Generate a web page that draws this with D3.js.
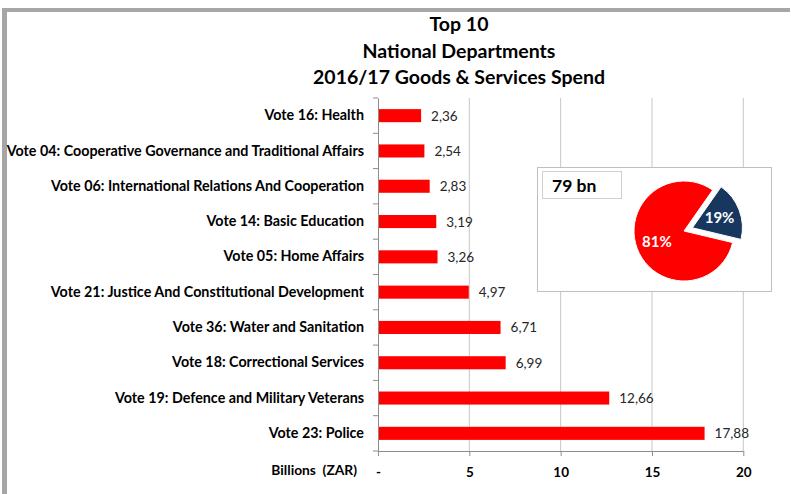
<!DOCTYPE html>
<html>
<head>
<meta charset="utf-8">
<script src="https://cdn.jsdelivr.net/npm/d3@7"></script>
<style>
  html, body { margin: 0; padding: 0; background: #fff; }
  svg { display: block; }
  text { font-family: Lato, "Open Sans", "Liberation Sans", sans-serif; }
</style>
</head>
<body>
<svg id="chart" width="791" height="494"></svg>
<script>
// Top 10 national departments, goods & services spend (R billions)
const categories = [
  "Vote 16: Health",
  "Vote 04: Cooperative Governance and Traditional Affairs",
  "Vote 06: International Relations And Cooperation",
  "Vote 14: Basic Education",
  "Vote 05: Home Affairs",
  "Vote 21: Justice And Constitutional Development",
  "Vote 36: Water and Sanitation",
  "Vote 18: Correctional Services",
  "Vote 19: Defence and Military Veterans",
  "Vote 23: Police"
];
const values = [2.36, 2.54, 2.83, 3.19, 3.26, 4.97, 6.71, 6.99, 12.66, 17.88];
const valueLabels = ["2,36", "2,54", "2,83", "3,19", "3,26", "4,97", "6,71", "6,99", "12,66", "17,88"];
const xTicks = [0, 5, 10, 15, 20];
const xTickLabels = ["-", "5", "10", "15", "20"];
const titleLines = ["Top 10", "National Departments", "2016/17 Goods & Services Spend"];
const axisTitle = "Billions  (ZAR)";

// Inset: share of total spend taken by the top 10
const pieLabels = ["19%", "81%"];
const pieShares = [19, 81];
const pieColors = ["#17375e", "#ff0000"];
const totalLabel = "79 bn";

const svg = d3.select("#chart");

// Frame bands
svg.append("rect").attr("x", 2).attr("y", 8).attr("width", 788).attr("height", 4).attr("fill", "#a6a6a6");
svg.append("rect").attr("x", 2).attr("y", 8).attr("width", 5).attr("height", 486).attr("fill", "#a6a6a6");

// Title
svg.append("g").selectAll("text").data(titleLines).join("text")
  .attr("x", 459).attr("y", (d, i) => 31 + i * 26.5)
  .attr("text-anchor", "middle")
  .attr("font-size", 19.5).attr("font-weight", "bold").attr("fill", "#000")
  .text(d => d);

// Scales
const plot = { left: 378, right: 743.3, top: 98, bottom: 451 };
const x = d3.scaleLinear().domain([0, 20]).range([plot.left, plot.right]);
const y = d3.scaleBand().domain(categories).range([plot.top, plot.bottom]).paddingInner(0.63).paddingOuter(0.315);

// Vertical gridlines
svg.append("g").selectAll("line").data(xTicks.filter(t => t > 0)).join("line")
  .attr("x1", d => x(d)).attr("x2", d => x(d))
  .attr("y1", plot.top).attr("y2", plot.bottom)
  .attr("stroke", "#c6c6c6").attr("stroke-width", 1);

// Bars
svg.append("g").selectAll("rect").data(values).join("rect")
  .attr("x", x(0) + 1)
  .attr("y", (d, i) => y(categories[i]))
  .attr("width", d => x(d) - x(0) - 1)
  .attr("height", y.bandwidth())
  .attr("fill", "#ff0000");

// Value labels
svg.append("g").selectAll("text").data(values).join("text")
  .attr("x", d => x(d) + 10)
  .attr("y", (d, i) => y(categories[i]) + y.bandwidth() / 2 + 5)
  .attr("font-size", 13.5).attr("fill", "#262626")
  .text((d, i) => valueLabels[i]);

// Category axis
const yAxis = d3.axisLeft(y).tickSize(0).tickPadding(14);
const gy = svg.append("g").attr("transform", `translate(${plot.left},0)`).call(yAxis);
gy.select(".domain").attr("stroke", "#8c8c8c");
gy.selectAll("text").attr("font-size", 14.3).attr("font-weight", "bold").attr("fill", "#000")
  .attr("font-family", "Lato, sans-serif");
// tick marks between categories
svg.append("g").selectAll("line").data(d3.range(categories.length + 1)).join("line")
  .attr("x1", plot.left - 5).attr("x2", plot.left)
  .attr("y1", i => plot.top + i * (plot.bottom - plot.top) / categories.length)
  .attr("y2", i => plot.top + i * (plot.bottom - plot.top) / categories.length)
  .attr("stroke", "#8c8c8c");

// Value axis
const xAxis = d3.axisBottom(x).tickValues(xTicks).tickSize(5).tickPadding(11)
  .tickFormat((d, i) => xTickLabels[i]);
const gx = svg.append("g").attr("transform", `translate(0,${plot.bottom})`).call(xAxis);
gx.select(".domain").attr("d", `M${plot.left},0.5H${plot.right}`).attr("stroke", "#8c8c8c");
gx.selectAll(".tick line").attr("stroke", "#8c8c8c");
gx.selectAll("text").attr("font-size", 13.5).attr("font-weight", "bold").attr("fill", "#000")
  .attr("font-family", "Lato, sans-serif");

svg.append("text")
  .attr("x", 357).attr("y", 475)
  .attr("text-anchor", "end")
  .attr("font-size", 13.8).attr("font-weight", "bold").attr("fill", "#000")
  .style("white-space", "pre")
  .text(axisTitle);

// Inset box with pie
const inset = svg.append("g");
inset.append("rect").attr("x", 537.5).attr("y", 167.5).attr("width", 234).attr("height", 124)
  .attr("fill", "#fff").attr("stroke", "#bfbfbf");
inset.append("rect").attr("x", 542.5).attr("y", 171.5).attr("width", 79).attr("height", 27)
  .attr("fill", "#fff").attr("stroke", "#d0d0d0");
inset.append("text").attr("x", 552).attr("y", 192)
  .attr("font-size", 17.5).attr("font-weight", "bold").attr("fill", "#000")
  .text(totalLabel);

const cx = 684, cy = 231, r = 50, explode = 9;
const pie = d3.pie().sort(null)
  .startAngle(35 * Math.PI / 180)
  .endAngle(35 * Math.PI / 180 + 2 * Math.PI);
const arcs = pie(pieShares);
const arc = d3.arc().innerRadius(0).outerRadius(r);
const labelArc = d3.arc().innerRadius(29).outerRadius(29);
const offset = (d, i) => {
  const m = (d.startAngle + d.endAngle) / 2;
  const k = i === 0 ? explode : 0;
  return [Math.sin(m) * k, -Math.cos(m) * k];
};
const pg = inset.append("g").attr("transform", `translate(${cx},${cy})`);
pg.selectAll("path").data(arcs).join("path")
  .attr("d", arc)
  .attr("transform", (d, i) => `translate(${offset(d, i)})`)
  .attr("fill", (d, i) => pieColors[i])
  .attr("stroke", "#fff").attr("stroke-width", 1);
pg.selectAll("text").data(arcs).join("text")
  .attr("transform", (d, i) => {
    const c = labelArc.centroid(d), o = offset(d, i);
    return `translate(${c[0] + o[0]},${c[1] + o[1]})`;
  })
  .attr("text-anchor", "middle").attr("dy", "0.35em")
  .attr("font-size", 15).attr("font-weight", "bold").attr("fill", "#fff")
  .text((d, i) => pieLabels[i]);
</script>
</body>
</html>
